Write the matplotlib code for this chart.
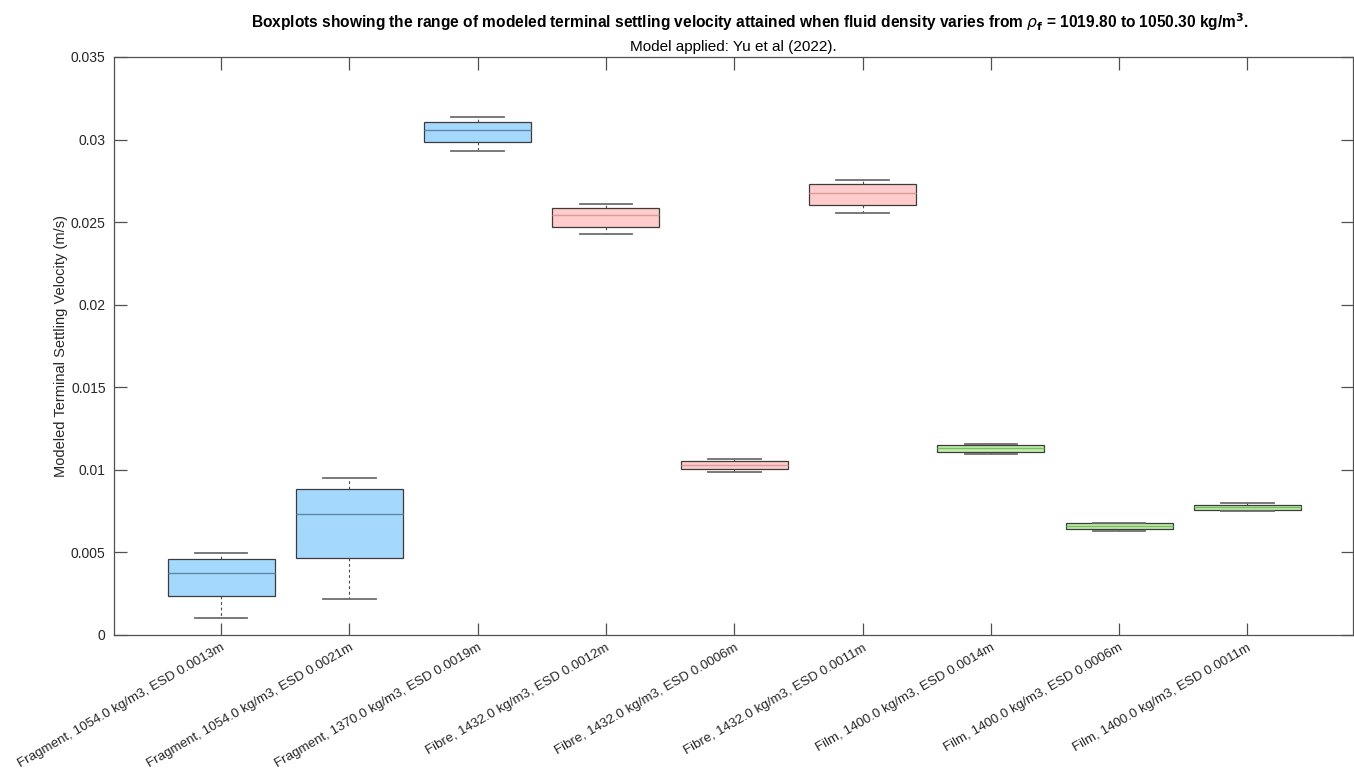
import matplotlib
matplotlib.use("Agg")
import matplotlib.pyplot as plt

plt.rcParams['font.family'] = ['Liberation Sans', 'DejaVu Sans']

labels = [
    "Fragment, 1054.0 kg/m3, ESD 0.0013m",
    "Fragment, 1054.0 kg/m3, ESD 0.0021m",
    "Fragment, 1370.0 kg/m3, ESD 0.0019m",
    "Fibre, 1432.0 kg/m3, ESD 0.0012m",
    "Fibre, 1432.0 kg/m3, ESD 0.0006m",
    "Fibre, 1432.0 kg/m3, ESD 0.0011m",
    "Film, 1400.0 kg/m3, ESD 0.0014m",
    "Film, 1400.0 kg/m3, ESD 0.0006m",
    "Film, 1400.0 kg/m3, ESD 0.0011m",
]
shape_class = ["Fragment", "Fragment", "Fragment", "Fibre", "Fibre", "Fibre", "Film", "Film", "Film"]

# five-number summaries of modeled terminal settling velocity (m/s)
whisker_low = [0.00103, 0.00220, 0.02933, 0.02426, 0.00984, 0.02553, 0.01097, 0.00630, 0.00753]
q1 = [0.00235, 0.00469, 0.02984, 0.02473, 0.01004, 0.02604, 0.01111, 0.00642, 0.00758]
median = [0.00376, 0.00731, 0.03059, 0.02541, 0.01030, 0.02679, 0.01131, 0.00661, 0.00776]
q3 = [0.00459, 0.00883, 0.03109, 0.02586, 0.01053, 0.02729, 0.01149, 0.00677, 0.00788]
whisker_high = [0.00495, 0.00953, 0.03135, 0.02608, 0.01065, 0.02753, 0.01159, 0.00681, 0.00797]

fill_colors = {"Fragment": "#A5D8FD", "Fibre": "#FFCBCB", "Film": "#BEF0A8"}
median_colors = {"Fragment": "#5E88A6", "Fibre": "#D79C9C", "Film": "#7FB86A"}

stats = []
for i, lab in enumerate(labels):
    stats.append(dict(label=lab, whislo=whisker_low[i], q1=q1[i], med=median[i],
                      q3=q3[i], whishi=whisker_high[i], fliers=[]))

fig = plt.figure(figsize=(13.54, 7.80), dpi=100)
ax = fig.add_axes([114 / 1354, 1 - 635 / 780, (1353 - 114) / 1354, (635 - 57) / 780])

positions = list(range(1, len(labels) + 1))
bp = ax.bxp(stats, positions=positions, widths=0.834, patch_artist=True,
            showfliers=False, capwidths=0.41,
            boxprops=dict(edgecolor="#3C3C3C", linewidth=0.9),
            whiskerprops=dict(color="#4A4A4A", linestyle=(0, (2.5, 2.5)), linewidth=0.8),
            capprops=dict(color="#6E6E6E", linewidth=1.3),
            medianprops=dict(linewidth=1.0))

for i, cls in enumerate(shape_class):
    bp['boxes'][i].set_facecolor(fill_colors[cls])
    bp['medians'][i].set_color(median_colors[cls])

ax.set_xlim(0.166, 9.823)
ax.set_ylim(0, 0.035)
ax.set_yticks([0, 0.005, 0.01, 0.015, 0.02, 0.025, 0.03, 0.035])
ax.set_yticklabels(["0", "0.005", "0.01", "0.015", "0.02", "0.025", "0.03", "0.035"])
ax.set_xticks(positions)
ax.set_xticklabels(labels, rotation=30, ha="right", va="top", rotation_mode="anchor")

for sp in ax.spines.values():
    sp.set_color("#505050")
    sp.set_linewidth(0.9)
ax.tick_params(direction="in", length=9, width=0.9, color="#505050",
               top=True, right=True, labelsize=10, labelcolor="#262626", pad=6)
ax.tick_params(axis="x", pad=5, labelsize=9.6)

ax.set_ylabel("Modeled Terminal Settling Velocity (m/s)", fontsize=10.5, color="#262626", labelpad=2)

cx = (114 + 1353) / 2 / 1354
fig.text(cx + 16 / 1354, 1 - 22 / 780,
         r"Boxplots showing the range of modeled terminal settling velocity attained when fluid density varies from $\rho_\mathbf{f}$ = 1019.80 to 1050.30 kg/m$^\mathbf{3}$.",
         ha="center", va="center", fontsize=11.2, fontweight="bold", color="black")
fig.text(cx, 1 - 47 / 780, "Model applied: Yu et al (2022).",
         ha="center", va="center", fontsize=11, color="black")

fig.savefig("out.png", dpi=100, facecolor="white")
